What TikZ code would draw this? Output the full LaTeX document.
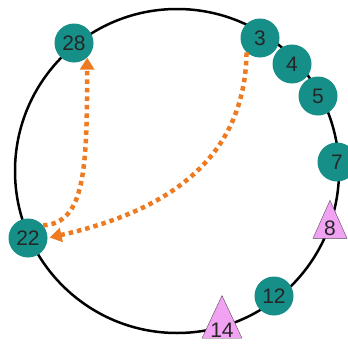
\documentclass[tikz,border=0pt]{standalone}
\usepackage{fontspec}
\setmainfont{Liberation Sans}
\usepackage{xcolor}
\usepackage{tikz}
\usetikzlibrary{arrows.meta,shapes.geometric}
\definecolor{ringteal}{HTML}{168F88}
\definecolor{keypink}{HTML}{F2A2F2}
\definecolor{keyedge}{HTML}{5A4A5A}
\definecolor{hoporange}{HTML}{EE7B22}
\tikzset{
  peernode/.style={circle,fill=ringteal,minimum size=39pt,inner sep=0pt,
    font=\fontsize{21}{21}\selectfont,text=black!85},
  keynode/.style={isosceles triangle,isosceles triangle stretches,
    shape border rotate=90,draw=keyedge,thin,fill=keypink,
    minimum width=34pt,minimum height=38pt,inner sep=0pt,
    font=\fontsize{21}{21}\selectfont,text=black!85},
  ringline/.style={line width=2.5pt,black},
  hopedge/.style={-{Triangle[length=12pt,width=14pt]},hoporange,
    line width=4.5pt,dash pattern=on 4.5pt off 4pt},
}

\begin{document}
\begin{tikzpicture}[x=1pt,y=-1pt]
  \useasboundingbox (0,0) rectangle (348,343);
  \draw[ringline] (177,171) circle (162);
  \node[peernode] (n28) at (74,43) {28};
  \node[peernode] (n3) at (260,38) {3};
  \node[peernode] (n4) at (292,64) {4};
  \node[peernode] (n5) at (318,96) {5};
  \node[peernode] (n7) at (337,162) {7};
  \node[keynode] (k8) at (330,228) {8};
  \node[peernode] (n12) at (274,296) {12};
  \node[keynode,minimum width=40pt,minimum height=40pt] (k14) at (222,330) {14};
  \node[peernode] (n22) at (28,238) {22};
  \draw[hopedge] (n22.40) .. controls (85,223) and (87,170) .. (n28.-48);
  \draw[hopedge,shorten >=2pt] (n3.-133) .. controls (245,170) and (150,215) .. (n22.east);
\end{tikzpicture}
\end{document}
